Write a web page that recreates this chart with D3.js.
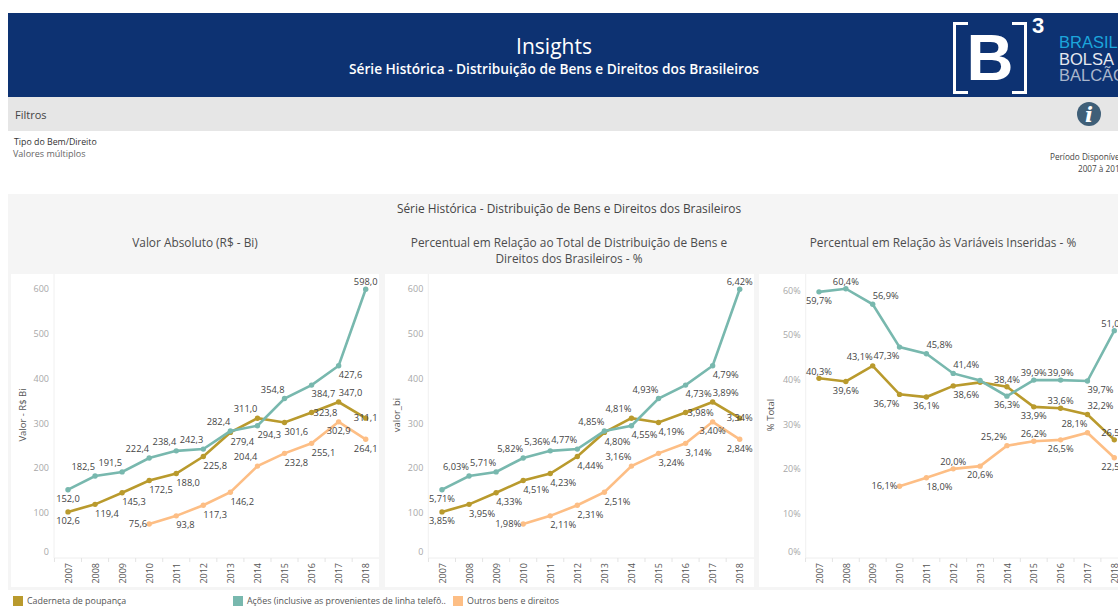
<!DOCTYPE html>
<html>
<head>
<meta charset="utf-8">
<script src="https://cdn.jsdelivr.net/npm/d3@7"></script>
<style>
  html, body { margin: 0; padding: 0; background: #fff; overflow: hidden; }
  text { font-family: "Open Sans", sans-serif; }
</style>
</head>
<body>
<svg id="canvas" width="1118" height="606"></svg>
<script>
const years = [2007, 2008, 2009, 2010, 2011, 2012, 2013, 2014, 2015, 2016, 2017, 2018];

// series share the same years, null = not in the data yet
const poupanca = [102.6, 119.4, 145.3, 172.5, 188.0, 225.8, 279.4, 311.0, 301.6, 323.8, 347.0, 311.1];
const acoes = [152.0, 182.5, 191.5, 222.4, 238.4, 242.3, 282.4, 294.3, 354.8, 384.7, 427.6, 598.0];
const outros = [null, null, null, 75.6, 93.8, 117.3, 146.2, 204.4, 232.8, 255.1, 302.9, 264.1];

const poupancaPct = ["3,85%", "3,95%", "4,33%", "4,51%", "4,23%", "4,44%", "4,80%", "4,81%", "4,19%", "3,98%", "3,89%", "3,34%"];
const acoesPct = ["5,71%", "6,03%", "5,71%", "5,82%", "5,36%", "4,77%", "4,85%", "4,55%", "4,93%", "4,73%", "4,79%", "6,42%"];
const outrosPct = [null, null, null, "1,98%", "2,11%", "2,31%", "2,51%", "3,16%", "3,24%", "3,14%", "3,40%", "2,84%"];

const poupancaTotal = [40.3, 39.6, 43.1, 36.7, 36.1, 38.6, 39.4, 38.4, 33.9, 33.6, 32.2, 26.5];
const acoesTotal = [59.7, 60.4, 56.9, 47.3, 45.8, 41.4, 39.8, 36.3, 39.9, 39.9, 39.7, 51.0];
const outrosTotal = [null, null, null, 16.1, 18.0, 20.0, 20.6, 25.2, 26.2, 26.5, 28.1, 22.5];

const valueTicks = [0, 100, 200, 300, 400, 500, 600];
const totalTicks = [0, 10, 20, 30, 40, 50, 60];

// where each label sits around its point (compass), "" = no label
const poupancaPos = ["S", "SE", "SE", "SE", "SE", "SE", "SE", "NW", "SE", "E", "NE", "C"];
const acoesPos = ["S", "NW", "NW", "NW", "NW", "NW", "NW", "SE", "NW", "SE", "SE", "N"];
const outrosPos = ["", "", "", "W", "SE", "SE", "SE", "NW", "SE", "SE", "S", "S"];

const poupancaTotalPos = ["N", "S", "NW", "SW", "S", "SE", "", "N", "S", "N", "NE", "N"];
const acoesTotalPos = ["S", "N", "NE", "SW", "NE", "NE", "", "S", "N", "N", "SE", "N"];
const outrosTotalPos = ["", "", "", "W", "SE", "N", "S", "NW", "N", "S", "NW", "S"];

const colorPoupanca = "#b99a2d";
const colorAcoes = "#78b8ae";
const colorOutros = "#fdbe85";

const svg = d3.select("#canvas");

const comma = d3.formatLocale({ decimal: ",", thousands: ".", grouping: [3], currency: ["", ""] });
const fmtValue = comma.format(".1f");
const fmtTotal = v => comma.format(".1f")(v) + "%";

// header
svg.append("rect").attr("x", 8).attr("y", 13).attr("width", 1110).attr("height", 84).attr("fill", "#0d3272");
svg.append("text").attr("x", 554).attr("y", 54).attr("text-anchor", "middle")
  .attr("font-size", 21).attr("fill", "#fff").text("Insights");
svg.append("text").attr("x", 554).attr("y", 74).attr("text-anchor", "middle")
  .attr("font-size", 13.7).attr("font-weight", 600).attr("fill", "#fff")
  .text("Série Histórica - Distribuição de Bens e Direitos dos Brasileiros");

// logo
const logo = svg.append("g");
logo.append("path")
  .attr("d", "M968,23.5 H954.5 V92.5 H968 M1012,23.5 H1025.5 V92.5 H1012")
  .attr("fill", "none").attr("stroke", "#fff").attr("stroke-width", 3);
logo.append("text").attr("x", 990).attr("y", 80).attr("text-anchor", "middle")
  .style("font-family", "Liberation Sans")
  .attr("font-size", 65).attr("font-weight", 700).attr("fill", "#fff").text("B");
logo.append("text").attr("x", 1038).attr("y", 33).attr("text-anchor", "middle")
  .style("font-family", "Liberation Sans").attr("font-size", 22).attr("font-weight", 700)
  .attr("fill", "#fff").text("3");
[["BRASIL", "#1ca6dc", 48], ["BOLSA", "#e6e9ef", 65], ["BALCÃO", "#a9b6cc", 81]].forEach(d => {
  logo.append("text").attr("x", 1059).attr("y", d[2]).style("font-family", "Liberation Sans")
    .attr("font-size", 16.5).attr("fill", d[1]).text(d[0]);
});

// filter band
svg.append("rect").attr("x", 8).attr("y", 97).attr("width", 1110).attr("height", 34).attr("fill", "#e6e6e6");
svg.append("text").attr("x", 15).attr("y", 119).attr("font-size", 11).attr("fill", "#444").text("Filtros");
svg.append("circle").attr("cx", 1089).attr("cy", 114).attr("r", 12).attr("fill", "#3f5f78");
svg.append("text").attr("x", 1089).attr("y", 122).attr("text-anchor", "middle")
  .style("font-family", "DejaVu Serif").attr("font-size", 21).attr("font-weight", 700)
  .attr("font-style", "italic").attr("fill", "#fff").text("i");
svg.append("text").attr("x", 14).attr("y", 145).attr("font-size", 8.8).attr("fill", "#333").text("Tipo do Bem/Direito");
svg.append("text").attr("x", 13).attr("y", 157).attr("font-size", 9).attr("fill", "#666").text("Valores múltiplos");
svg.append("text").attr("x", 1050).attr("y", 160).attr("font-size", 8.2).attr("fill", "#444").text("Período Disponível");
svg.append("text").attr("x", 1078).attr("y", 172).attr("font-size", 8.2).attr("fill", "#444").text("2007 à 2018");

// grey sheet behind the charts
svg.append("rect").attr("x", 8).attr("y", 194).attr("width", 1110).attr("height", 396).attr("fill", "#f5f5f5");
svg.append("text").attr("x", 569).attr("y", 213).attr("text-anchor", "middle")
  .attr("font-size", 11.9).attr("fill", "#444")
  .text("Série Histórica - Distribuição de Bens e Direitos dos Brasileiros");

function panelTitle(lines, cx) {
  lines.forEach((t, i) => {
    svg.append("text").attr("x", cx).attr("y", 247 + i * 16).attr("text-anchor", "middle")
      .attr("font-size", 11.85).attr("fill", "#4c4c4c").text(t);
  });
}
panelTitle(["Valor Absoluto (R$ - Bi)"], 195);
panelTitle(["Percentual em Relação ao Total de Distribuição de Bens e", "Direitos dos Brasileiros - %"], 569);
panelTitle(["Percentual em Relação às Variáveis Inseridas - %"], 943);

// compass offsets of a label centre from its point, dx scales with text width
const pos = {
  N: [0, -7], S: [0, 9], E: [1, 0], W: [-1, 0], C: [0, 0],
  NW: [-1, -9], NE: [1, -9], SE: [1, 9], SW: [-1, 9]
};

function drawPanel(opt) {
  const g = svg.append("g");
  g.append("rect").attr("x", opt.left).attr("y", 274).attr("width", opt.right - opt.left).attr("height", 313).attr("fill", "#fff");

  const x = d3.scalePoint().domain(years).range([opt.x0, opt.x1]);
  const y = d3.scaleLinear().domain([0, opt.topValue]).range([558, opt.topY]);
  const step = x.step();

  // axis lines and ticks between the years
  g.append("line").attr("x1", opt.axisX).attr("x2", opt.axisX).attr("y1", 274).attr("y2", 558).attr("stroke", "#f0f0f0");
  g.append("line").attr("x1", opt.axisX).attr("x2", opt.right).attr("y1", 558).attr("y2", 558).attr("stroke", "#eeeeee");
  years.forEach(yr => {
    const tx = x(yr) - step / 2;
    g.append("line").attr("x1", tx).attr("x2", tx).attr("y1", 558).attr("y2", 562).attr("stroke", "#e4e4e4");
  });

  const yAxis = g.append("g").attr("transform", `translate(${opt.axisX},0)`)
    .call(d3.axisLeft(y).tickValues(opt.ticks).tickSize(0).tickPadding(5).tickFormat(opt.tickFormat));
  yAxis.select(".domain").remove();
  yAxis.selectAll("text").attr("font-size", 9).attr("fill", "#a8a8a8").style("font-family", '"Open Sans", sans-serif')
    .attr("y", d => d === 0 ? -6 : 0);

  const xAxis = g.append("g").attr("transform", "translate(0,558)")
    .call(d3.axisBottom(x).tickSize(0).tickFormat(d3.format("d")));
  xAxis.select(".domain").remove();
  xAxis.selectAll("text").attr("font-size", 9).attr("fill", "#555").style("font-family", '"Open Sans", sans-serif')
    .attr("text-anchor", "end").attr("transform", "rotate(-90)").attr("x", -5).attr("y", 0).attr("dy", "0.35em");

  g.append("text").attr("transform", `translate(${opt.titleX},${opt.titleY}) rotate(-90)`)
    .attr("text-anchor", "middle").attr("font-size", 9.5).attr("fill", "#555").text(opt.axisTitle);

  const line = d3.line().defined(d => d.v != null).x(d => x(d.year)).y(d => y(d.v));

  opt.series.forEach(s => {
    const pts = years.map((yr, i) => ({ year: yr, v: s.values[i] }));
    g.append("path").datum(pts).attr("d", line).attr("fill", "none").attr("stroke", s.color).attr("stroke-width", 2.6);
    g.selectAll(null).data(pts.filter(d => d.v != null)).enter().append("circle")
      .attr("cx", d => x(d.year)).attr("cy", d => y(d.v)).attr("r", 2.7).attr("fill", s.color);
  });

  // labels go last so they stay on top of the lines
  opt.series.forEach(s => {
    years.forEach((yr, i) => {
      if (s.values[i] == null || !s.pos[i]) return;
      const o = pos[s.pos[i]];
      const t = g.append("text").attr("font-size", 9.3).attr("fill", "#444").attr("text-anchor", "middle")
        .attr("dy", "0.35em").text(s.labels(i));
      const w = t.node().getComputedTextLength();
      const gap = s.pos[i] === "E" || s.pos[i] === "W" ? w / 2 + 2 : w / 2;
      t.attr("x", x(yr) + o[0] * gap).attr("y", y(s.values[i]) + o[1]);
    });
  });
}

drawPanel({
  left: 11, right: 379, axisX: 54, x0: 68, x1: 365.7,
  topValue: 600, topY: 288.3, ticks: valueTicks, tickFormat: d3.format("d"),
  axisTitle: "Valor - R$ Bi", titleX: 26, titleY: 415,
  series: [
    { color: colorPoupanca, values: poupanca, pos: poupancaPos, labels: i => fmtValue(poupanca[i]) },
    { color: colorAcoes, values: acoes, pos: acoesPos, labels: i => fmtValue(acoes[i]) },
    { color: colorOutros, values: outros, pos: outrosPos, labels: i => outros[i] == null ? "" : fmtValue(outros[i]) }
  ]
});

drawPanel({
  left: 385, right: 754, axisX: 428.3, x0: 442, x1: 739.7,
  topValue: 600, topY: 288.3, ticks: valueTicks, tickFormat: d3.format("d"),
  axisTitle: "valor_bi", titleX: 400, titleY: 415,
  series: [
    { color: colorPoupanca, values: poupanca, pos: poupancaPos, labels: i => poupancaPct[i] },
    { color: colorAcoes, values: acoes, pos: acoesPos, labels: i => acoesPct[i] },
    { color: colorOutros, values: outros, pos: outrosPos, labels: i => outrosPct[i] }
  ]
});

drawPanel({
  left: 759, right: 1118, axisX: 805.7, x0: 819, x1: 1114.3,
  topValue: 60, topY: 290.5, ticks: totalTicks, tickFormat: d => d + "%",
  axisTitle: "% Total", titleX: 774, titleY: 415,
  series: [
    { color: colorPoupanca, values: poupancaTotal, pos: poupancaTotalPos, labels: i => fmtTotal(poupancaTotal[i]) },
    { color: colorAcoes, values: acoesTotal, pos: acoesTotalPos, labels: i => fmtTotal(acoesTotal[i]) },
    { color: colorOutros, values: outrosTotal, pos: outrosTotalPos, labels: i => outrosTotal[i] == null ? "" : fmtTotal(outrosTotal[i]) }
  ]
});

// legend
const legendItems = [
  ["Caderneta de poupança", colorPoupanca, 13],
  ["Ações (inclusive as provenientes de linha telefô..", colorAcoes, 233],
  ["Outros bens e direitos", colorOutros, 453]
];
legendItems.forEach(d => {
  svg.append("rect").attr("x", d[2]).attr("y", 596).attr("width", 10).attr("height", 10).attr("fill", d[1]);
  svg.append("text").attr("x", d[2] + 14).attr("y", 604).attr("font-size", 8.9).attr("fill", "#555").text(d[0]);
});
</script>
</body>
</html>
